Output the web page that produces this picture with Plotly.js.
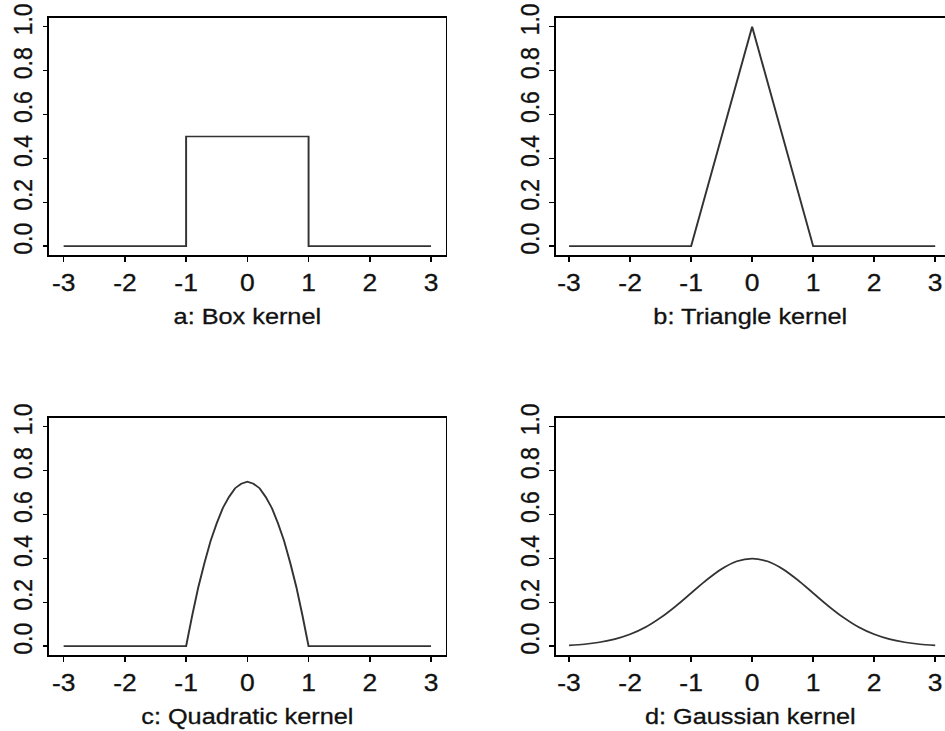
<!DOCTYPE html>
<html>
<head>
<meta charset="utf-8">
<script src="https://cdn.plot.ly/plotly-3.0.1.min.js"></script>
<style>
html, body { margin: 0; padding: 0; background: #ffffff; overflow: hidden; }
#wrap { width: 945px; height: 731px; overflow: hidden; }
#plot { width: 822px; height: 731px; transform: scaleX(1.1496); transform-origin: 0 0; }
#plot text { stroke: #111; stroke-width: 0.3px; }
</style>
</head>
<body>
<div id="wrap"><div id="plot"></div></div>
<script>
// ---- data ----
const boxX = [-3, -1, -1, 1, 1, 3];
const boxY = [0, 0, 0.5, 0.5, 0, 0];

const triX = [-3, -1, 0, 1, 3];
const triY = [0, 0, 1, 0, 0];

const quadX = [-3, -1, -0.9, -0.8, -0.7, -0.6, -0.5, -0.4, -0.3, -0.2, -0.1, 0,
               0.1, 0.2, 0.3, 0.4, 0.5, 0.6, 0.7, 0.8, 0.9, 1, 3];
const quadY = [0, 0, 0.14, 0.27, 0.38, 0.48, 0.56, 0.63, 0.68, 0.72, 0.74, 0.75,
               0.74, 0.72, 0.68, 0.63, 0.56, 0.48, 0.38, 0.27, 0.14, 0, 0];

const gaussX = [-3, -2.75, -2.5, -2.25, -2, -1.75, -1.5, -1.25, -1, -0.75, -0.5, -0.25, 0,
                0.25, 0.5, 0.75, 1, 1.25, 1.5, 1.75, 2, 2.25, 2.5, 2.75, 3];
const gaussY = [0.004, 0.009, 0.018, 0.032, 0.054, 0.086, 0.13, 0.183, 0.242, 0.301, 0.352, 0.387, 0.399,
                0.387, 0.352, 0.301, 0.242, 0.183, 0.13, 0.086, 0.054, 0.032, 0.018, 0.009, 0.004];

const xTickVals = [-3, -2, -1, 0, 1, 2, 3];
const xTickText = ['-3', '-2', '-1', '0', '1', '2', '3'];
const yTickVals = [0, 0.2, 0.4, 0.6, 0.8, 1.0];
const yTickText = ['0.0', '0.2', '0.4', '0.6', '0.8', '1.0'];

const titles = ['a: Box kernel', 'b: Triangle kernel', 'c: Quadratic kernel', 'd: Gaussian kernel'];

// ---- styling ----
const FONT = 'Liberation Sans, Arial, Helvetica, sans-serif';
const lineStyle = {color: '#333333', width: 1.7};

const traces = [
  {x: boxX, y: boxY, xaxis: 'x', yaxis: 'y', mode: 'lines', line: lineStyle},
  {x: triX, y: triY, xaxis: 'x2', yaxis: 'y2', mode: 'lines', line: lineStyle},
  {x: quadX, y: quadY, xaxis: 'x3', yaxis: 'y3', mode: 'lines', line: lineStyle},
  {x: gaussX, y: gaussY, xaxis: 'x4', yaxis: 'y4', mode: 'lines', line: Object.assign({shape: 'spline', smoothing: 0.8}, lineStyle)}
];

function xa(domain, range, title, anchor) {
  return {
    domain: domain, range: range, anchor: anchor,
    showgrid: false, zeroline: false,
    showline: true, mirror: true, linecolor: '#000', linewidth: 1.7,
    ticks: 'outside', ticklen: 5, tickwidth: 1.4, tickcolor: '#000',
    tickvals: xTickVals, ticktext: xTickText,
    tickfont: {family: FONT, size: 23, color: '#111'},
    ticklabelstandoff: 2,
    title: {text: title, font: {family: FONT, size: 22, color: '#111'}, standoff: 13},
    fixedrange: true
  };
}
function ya(domain, anchor) {
  return {
    domain: domain, range: [-0.04, 1.04], anchor: anchor,
    showgrid: false, zeroline: false,
    showline: true, mirror: true, linecolor: '#000', linewidth: 1.5,
    ticks: 'outside', ticklen: 4, tickwidth: 1.4, tickcolor: '#000',
    tickvals: yTickVals, ticktext: yTickText, tickangle: -90,
    tickfont: {family: FONT, size: 23, color: '#111'},
    ticklabelstandoff: 0,
    ticklabelshift: -4,
    fixedrange: true
  };
}

const leftX = [0.0518, 0.4717];
const rightX = [0.588, 1.0];
const topY = [0.6512, 0.9754];
const botY = [0.104, 0.4282];

const layout = {
  width: 822, height: 731,
  margin: {l: 0, r: 0, t: 0, b: 0},
  paper_bgcolor: '#ffffff', plot_bgcolor: '#ffffff',
  showlegend: false,
  xaxis: xa(leftX, [-3.24, 3.24], titles[0], 'y'),
  yaxis: ya(topY, 'x'),
  xaxis2: xa(rightX, [-3.22, 3.16], titles[1], 'y2'),
  yaxis2: ya(topY, 'x2'),
  xaxis3: xa(leftX, [-3.24, 3.24], titles[2], 'y3'),
  yaxis3: ya(botY, 'x3'),
  xaxis4: xa(rightX, [-3.22, 3.16], titles[3], 'y4'),
  yaxis4: ya(botY, 'x4')
};

Plotly.newPlot('plot', traces, layout, {displayModeBar: false, staticPlot: true});
</script>
</body>
</html>
